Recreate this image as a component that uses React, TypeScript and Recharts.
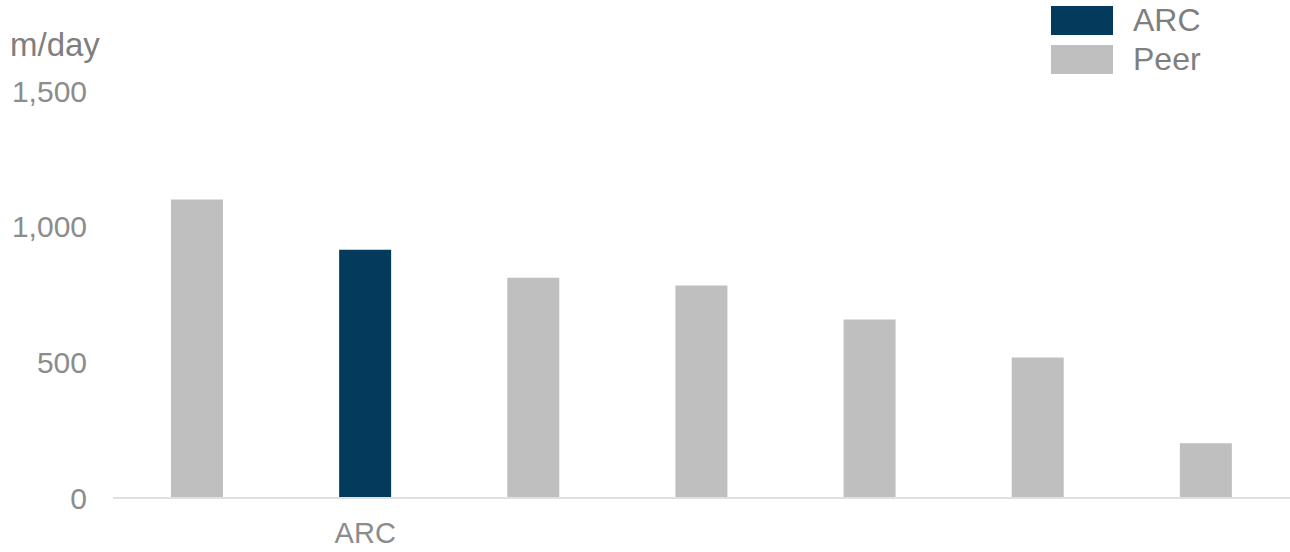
import { Bar, BarChart, Cell, Legend, XAxis, YAxis } from "recharts"

const categories = ["Peer A", "ARC", "Peer B", "Peer C", "Peer D", "Peer E", "Peer F"]
const values = [1100, 915, 812, 783, 658, 518, 202]
const groups = ["Peer", "ARC", "Peer", "Peer", "Peer", "Peer", "Peer"]
const yTicks = [0, 500, 1000, 1500]
const legendItems = ["ARC", "Peer"]

const colors: Record<string, string> = { ARC: "#043a5c", Peer: "#bfbfbf" }
const font = "'Liberation Sans', Arial, sans-serif"

const data = categories.map((name, i) => ({ name, value: values[i], group: groups[i] }))

function LegendBox() {
    return (
        <div style={{ fontFamily: font }}>
            {legendItems.map((item) => (
                <div key={item} style={{ display: "flex", alignItems: "center", height: 39 }}>
                    <div style={{ width: 62, height: 29, background: colors[item] }} />
                    <span style={{ marginLeft: 20, fontSize: 32, color: "#7f7f7f" }}>{item}</span>
                </div>
            ))}
        </div>
    )
}

export default function App() {
    return (
        <div style={{ position: "absolute", left: 0, top: 0, width: 1290, height: 552, background: "#fff" }}>
            <div style={{ position: "absolute", left: 10, top: 26, fontFamily: font, fontSize: 33, color: "#7f7f7f" }}>
                m/day
            </div>
            <BarChart
                width={1290}
                height={552}
                data={data}
                margin={{ top: 91, right: 0, bottom: 0, left: 0 }}
                barSize={52}
            >
                <XAxis
                    dataKey="name"
                    height={54}
                    tickLine={false}
                    tickSize={0}
                    tickMargin={24}
                    axisLine={{ stroke: "#e0e0e0", strokeWidth: 2 }}
                    tick={{ fill: "#8c8c8c", fontSize: 29, fontFamily: font }}
                    tickFormatter={(v: string) => (v === "ARC" ? v : "")}
                    interval={0}
                />
                <YAxis
                    width={113}
                    domain={[0, 1500]}
                    ticks={yTicks}
                    tickLine={false}
                    axisLine={false}
                    tickSize={0}
                    tickMargin={26}
                    tick={{ fill: "#8c8c8c", fontSize: 30, fontFamily: font }}
                    tickFormatter={(v: number) => v.toLocaleString("en-US")}
                />
                <Legend
                    layout="horizontal"
                    verticalAlign="middle"
                    wrapperStyle={{ top: 1, left: 1051, width: 200 }}
                    content={() => <LegendBox />}
                />
                <Bar dataKey="value" isAnimationActive={false}>
                    {data.map((d) => (
                        <Cell key={d.name} fill={colors[d.group]} />
                    ))}
                </Bar>
            </BarChart>
        </div>
    )
}
